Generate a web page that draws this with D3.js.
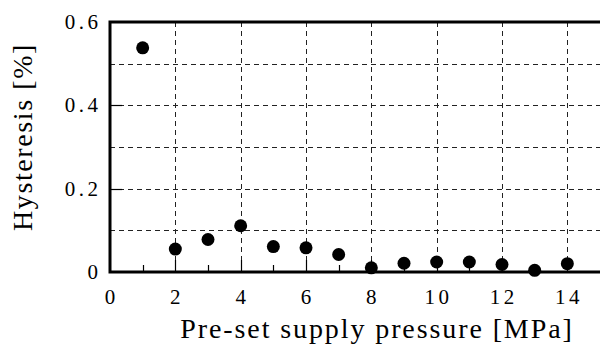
<!DOCTYPE html>
<html>
<head>
<meta charset="utf-8">
<script src="https://cdn.jsdelivr.net/npm/d3@7"></script>
<style>
  body { margin: 0; background: #fff; }
  text { font-family: "Liberation Serif", "Times New Roman", serif; fill: #000; }
</style>
</head>
<body>
<svg id="chart" width="600" height="347"></svg>
<script>
// supply pressure [MPa] vs hysteresis [%]
const pressure = [1, 2, 3, 4, 5, 6, 7, 8, 9, 10, 11, 12, 13, 14];
const hysteresis = [0.538, 0.055, 0.078, 0.111, 0.061, 0.058, 0.042, 0.010, 0.021, 0.024, 0.024, 0.018, 0.004, 0.020];
const xTicks = [0, 2, 4, 6, 8, 10, 12, 14];
const yTicks = [0, 0.2, 0.4, 0.6];
const xGrid = [2, 4, 6, 8, 10, 12, 14];
const yGrid = [0.1, 0.2, 0.3, 0.4, 0.5];
const xMinor = [1, 3, 5, 7, 9, 11, 13];

const svg = d3.select("#chart");
const mLeft = 110, mRight = 600, mTop = 22, mBottom = 272;
const tickSpacing = 3.5;

const x = d3.scaleLinear().domain([0, 15]).range([mLeft, mRight]);
const y = d3.scaleLinear().domain([0, 0.6]).range([mBottom, mTop]);

// grid
const grid = svg.append("g")
    .attr("stroke", "#222")
    .attr("stroke-width", 1)
    .attr("stroke-dasharray", "5,4");
grid.selectAll(".gx")
    .data(xGrid)
    .join("line")
    .attr("x1", d => Math.round(x(d)) + 0.5).attr("x2", d => Math.round(x(d)) + 0.5)
    .attr("y1", mTop).attr("y2", mBottom);
grid.selectAll(".gy")
    .data(yGrid)
    .join("line")
    .attr("y1", d => Math.round(y(d)) + 0.5).attr("y2", d => Math.round(y(d)) + 0.5)
    .attr("x1", mLeft).attr("x2", mRight);

// inward ticks
const ticks = svg.append("g").attr("stroke", "#000").attr("stroke-width", 1.2);
ticks.selectAll(".tx")
    .data(xTicks.slice(1))
    .join("line")
    .attr("x1", d => Math.round(x(d)) + 0.5).attr("x2", d => Math.round(x(d)) + 0.5)
    .attr("y1", mBottom).attr("y2", mBottom - 12);
ticks.selectAll(".tm")
    .data(xMinor)
    .join("line")
    .attr("x1", d => Math.round(x(d)) + 0.5).attr("x2", d => Math.round(x(d)) + 0.5)
    .attr("y1", mBottom).attr("y2", mBottom - 7);
ticks.selectAll(".ty")
    .data(yTicks.slice(1, 3))
    .join("line")
    .attr("y1", d => Math.round(y(d)) + 0.5).attr("y2", d => Math.round(y(d)) + 0.5)
    .attr("x1", mLeft).attr("x2", mLeft + 12);

// frame
svg.append("path")
    .attr("d", `M${mRight},${mTop}H${mLeft}V${mBottom}H${mRight}`)
    .attr("fill", "none")
    .attr("stroke", "#000")
    .attr("stroke-width", 3);

// points
svg.append("g")
    .selectAll("circle")
    .data(pressure.map((p, i) => [p, hysteresis[i]]))
    .join("circle")
    .attr("cx", d => x(d[0]))
    .attr("cy", d => y(d[1]))
    .attr("r", 6.5)
    .attr("fill", "#000");

// tick labels
svg.append("g")
    .selectAll("text")
    .data(xTicks)
    .join("text")
    .attr("x", d => x(d) + tickSpacing / 2)
    .attr("y", 304)
    .attr("text-anchor", "middle")
    .attr("font-size", 21)
    .attr("letter-spacing", tickSpacing)
    .text(d => d);
svg.append("g")
    .selectAll("text")
    .data(yTicks)
    .join("text")
    .attr("x", 98 + tickSpacing)
    .attr("y", d => y(d))
    .attr("dy", "0.33em")
    .attr("text-anchor", "end")
    .attr("font-size", 21)
    .attr("letter-spacing", tickSpacing)
    .text(d => d === 0 ? "0" : d.toFixed(1));

// axis titles
svg.append("text")
    .attr("x", 377)
    .attr("y", 338)
    .attr("text-anchor", "middle")
    .attr("font-size", 28)
    .attr("letter-spacing", 1.9)
    .text("Pre-set supply pressure [MPa]");
svg.append("text")
    .attr("transform", "translate(32,137) rotate(-90)")
    .attr("text-anchor", "middle")
    .attr("font-size", 28)
    .attr("letter-spacing", 1.6)
    .text("Hysteresis [%]");
</script>
</body>
</html>
